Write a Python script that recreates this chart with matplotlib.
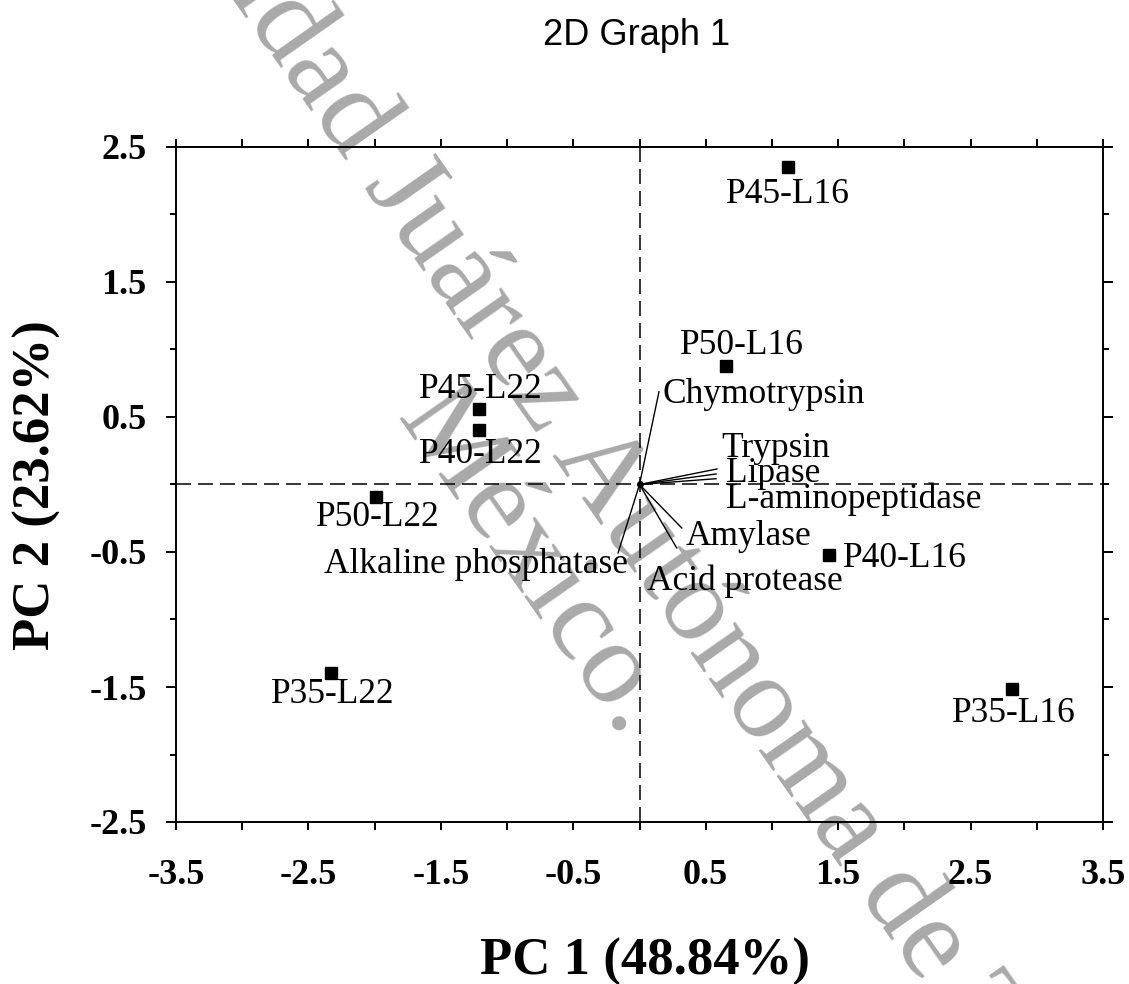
import numpy as np
import matplotlib
matplotlib.use("Agg")
import matplotlib.pyplot as plt
from matplotlib.ticker import MultipleLocator, FormatStrFormatter

plt.rcParams['axes.unicode_minus'] = False
plt.rcParams['font.family'] = ['Liberation Serif', 'DejaVu Serif']

# sample scores on the first two components
samples = ['P45-L16', 'P50-L16', 'P40-L16', 'P35-L16',
           'P45-L22', 'P40-L22', 'P50-L22', 'P35-L22']
pc1 = [1.12, 0.65, 1.43, 2.81, -1.215, -1.215, -1.99, -2.33]
pc2 = [2.35, 0.88, -0.52, -1.515, 0.56, 0.40, -0.09, -1.40]

# enzyme loadings (vectors from the origin)
enzymes = ['Chymotrypsin', 'Trypsin', 'Lipase', 'L-aminopeptidase',
           'Amylase', 'Acid protease', 'Alkaline phosphatase']
load1 = [0.147, 0.585, 0.578, 0.578, 0.319, 0.281, -0.162]
load2 = [0.687, 0.115, 0.078, 0.043, -0.322, -0.470, -0.507]

xticks = [-3.5, -2.5, -1.5, -0.5, 0.5, 1.5, 2.5, 3.5]
yticks = [-2.5, -1.5, -0.5, 0.5, 1.5, 2.5]

# label placement: offset in pixels (dx, dy) and horizontal alignment
sample_pos = {
    'P45-L16': (0, -36, 'center'), 'P50-L16': (16, 12, 'center'),
    'P40-L16': (14, -12, 'left'), 'P35-L16': (2, -33, 'center'),
    'P45-L22': (2, 11, 'center'), 'P40-L22': (2, -33, 'center'),
    'P50-L22': (2, -29, 'center'), 'P35-L22': (2, -30, 'center'),
}
enzyme_pos = {
    'Chymotrypsin': (4, -11, 'left'), 'Trypsin': (4, 12, 'left'),
    'Lipase': (10, -8, 'left'), 'L-aminopeptidase': (10, -29, 'left'),
    'Amylase': (4, -17, 'left'), 'Acid protease': (-30, -42, 'left'),
    'Alkaline phosphatase': (10, -20, 'right'),
}
PX = 0.72  # points per pixel at dpi 100

fig = plt.figure(figsize=(11.29, 9.84), dpi=100, facecolor='white')
ax = fig.add_axes([176 / 1129, 1 - 822 / 984, 927 / 1129, 675 / 984])
ax.set_facecolor('none')
ax.set_zorder(1)

# watermark, two centred lines drawn behind the axes
wm = dict(rotation=-55, rotation_mode='anchor', ha='center', va='baseline',
          fontsize=86, color='#a9a9a9', zorder=0)
fig.text(0.5267, 0.4741, 'Universidad Juárez Autónoma de Tabasco.', **wm)
fig.text(0.4504, 0.4114, 'México.', **wm)

dash = (0, (15 * PX / 1.1, 7 * PX / 1.1))
ax.axhline(0, color='black', lw=1.1, ls=dash, zorder=1)
ax.axvline(0, color='black', lw=1.1, ls=dash, zorder=1)

# loading vectors
for name, lx, ly in zip(enzymes, load1, load2):
    ax.plot([0, lx], [0, ly], color='black', lw=1.0, zorder=2)
    dx, dy, ha = enzyme_pos[name]
    ax.annotate(name, (lx, ly), xytext=(dx * PX, dy * PX), textcoords='offset points',
                ha=ha, va='baseline', fontsize=25.5, zorder=3)
ax.plot([0], [0], 'o', color='black', ms=4, zorder=3)

# sample scores
ax.plot(pc1, pc2, 's', color='black', ms=8.6, ls='none', zorder=3)
for name, sx, sy in zip(samples, pc1, pc2):
    dx, dy, ha = sample_pos[name]
    ax.annotate(name, (sx, sy), xytext=(dx * PX, dy * PX), textcoords='offset points',
                ha=ha, va='baseline', fontsize=25.5, zorder=3)

ax.set_xlim(-3.5, 3.5)
ax.set_ylim(-2.5, 2.5)
ax.set_xticks(xticks)
ax.set_yticks(yticks)
ax.xaxis.set_minor_locator(MultipleLocator(0.5))
ax.yaxis.set_minor_locator(MultipleLocator(0.5))
ax.xaxis.set_major_formatter(FormatStrFormatter('%.1f'))
ax.yaxis.set_major_formatter(FormatStrFormatter('%.1f'))

for sp in ax.spines.values():
    sp.set_linewidth(1.4)
ax.tick_params(which='both', direction='out', top=True, right=True,
               width=1.4, labelsize=26)
ax.tick_params(axis='y', which='major', length=7.2, pad=14)
ax.tick_params(axis='y', which='minor', length=4)
ax.tick_params(axis='x', which='major', length=5.8, pad=21)
ax.tick_params(axis='x', which='minor', length=5.8)
for lab in ax.get_xticklabels() + ax.get_yticklabels():
    lab.set_fontweight('bold')

fig.text(0.5642, 1 - 45 / 984, '2D Graph 1', ha='center', va='baseline',
         fontsize=26, family='Liberation Sans')
fig.text(0.571, 1 - 975 / 984, 'PC 1 (48.84%)', ha='center', va='baseline',
         fontsize=38, fontweight='bold')
fig.text(37 / 1129, 1 - 485 / 984, 'PC 2 (23.62%)', ha='center', va='center',
         rotation=90, fontsize=38, fontweight='bold')

fig.savefig('out.png', dpi=100, facecolor='white')
